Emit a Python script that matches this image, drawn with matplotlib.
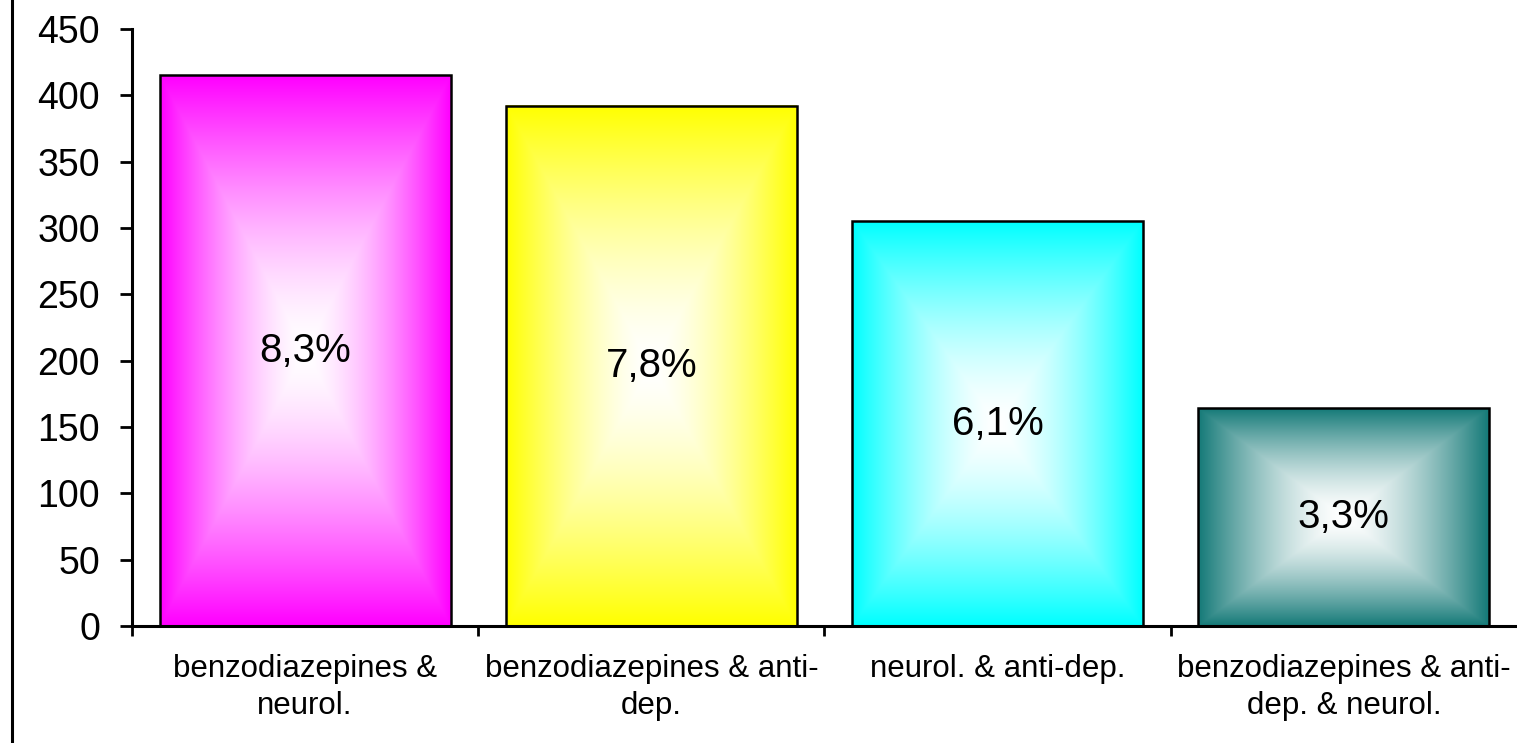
import numpy as np
import matplotlib
matplotlib.use("Agg")
import matplotlib.pyplot as plt
from matplotlib.colors import to_rgb
from matplotlib.lines import Line2D

plt.rcParams["font.family"] = ["Liberation Sans", "DejaVu Sans"]

categories = ["benzodiazepines &\nneurol.", "benzodiazepines & anti-\ndep.",
              "neurol. & anti-dep.", "benzodiazepines & anti-\ndep. & neurol."]
values = [415, 392, 305, 164]
pct_labels = ["8,3%", "7,8%", "6,1%", "3,3%"]
colors = ["#ff00ff", "#ffff00", "#00ffff", "#157a78"]
yticks = [0, 50, 100, 150, 200, 250, 300, 350, 400, 450]

fig = plt.figure(figsize=(15.17, 7.43), dpi=100)
ax = fig.add_axes([0.087, 0.1575, 0.913, 0.8035])

x = np.arange(len(values))
# bars only as black outlines, the gradient goes under them
bars = ax.bar(x, values, width=0.84, facecolor="none", edgecolor="black", linewidth=1.8, zorder=3)

# "from center" gradient: white in the middle, full colour at the edges
n = 200
u = np.linspace(-1, 1, n)
uu, vv = np.meshgrid(u, u)
t = np.maximum(np.abs(uu), np.abs(vv))
t = t ** 1.5
for b, c in zip(bars, colors):
    rgb = np.array(to_rgb(c))
    img = (1 - t)[..., None] * np.array([1.0, 1.0, 1.0]) + t[..., None] * rgb
    x0, y0, w, h = b.get_x(), b.get_y(), b.get_width(), b.get_height()
    ax.imshow(img, extent=[x0, x0 + w, y0, y0 + h], aspect="auto", zorder=2, interpolation="bilinear")

for b, lab in zip(bars, pct_labels):
    ax.text(b.get_x() + b.get_width() / 2, b.get_height() / 2, lab, ha="center", va="center",
            fontsize=29, color="black", zorder=4)

ax.set_xlim(-0.5, len(values) - 0.5)
ax.set_ylim(0, 450)
ax.set_yticks(yticks)
ax.tick_params(axis="y", labelsize=27, length=9, width=2, pad=14)

# ticks between the categories, labels at the centers
ax.set_xticks(np.arange(len(values)) - 0.5)
ax.set_xticklabels([])
ax.tick_params(axis="x", which="major", length=7, width=2)
ax.set_xticks(x, minor=True)
ax.set_xticklabels(categories, minor=True, fontsize=22.5, linespacing=1.3)
ax.tick_params(axis="x", which="minor", length=0, pad=20)

ax.spines["top"].set_visible(False)
ax.spines["right"].set_visible(False)
ax.spines["left"].set_linewidth(2.2)
ax.spines["bottom"].set_linewidth(2.2)

fig.add_artist(Line2D([12 / 1517, 12 / 1517], [0, 1], transform=fig.transFigure, color="black", linewidth=2.2))

fig.savefig("out.png", dpi=100)
